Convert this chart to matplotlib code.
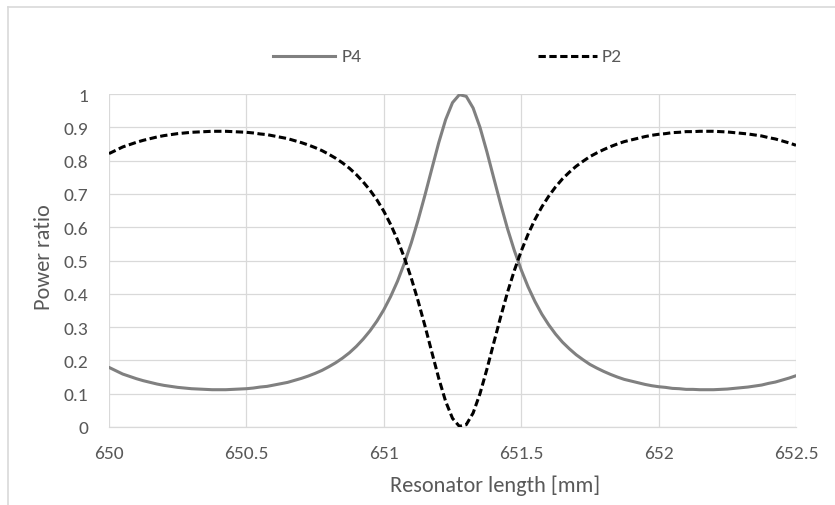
import numpy as np
import matplotlib
matplotlib.use("Agg")
import matplotlib.pyplot as plt
from matplotlib.lines import Line2D

# Resonator length grid [mm]
length_mm = np.linspace(650.0, 652.5, 101)

p4 = [0.179,0.169,0.159,0.152,0.145,0.139,0.134,0.129,0.125,0.122,0.119,0.117,0.115,0.114,0.113,0.112,0.112,0.112,0.113,0.114,
      0.115,0.117,0.120,0.122,0.126,0.130,0.134,0.140,0.146,0.153,0.161,0.170,0.181,0.193,0.207,0.223,0.242,0.264,0.289,0.318,
      0.352,0.392,0.438,0.492,0.553,0.622,0.697,0.776,0.854,0.923,0.974,0.998,0.993,0.958,0.900,0.827,0.748,0.670,0.596,0.530,
      0.472,0.421,0.377,0.339,0.307,0.279,0.255,0.235,0.217,0.202,0.188,0.177,0.167,0.158,0.150,0.143,0.138,0.133,0.128,0.124,
      0.121,0.119,0.116,0.115,0.113,0.113,0.112,0.112,0.112,0.113,0.114,0.116,0.118,0.120,0.123,0.126,0.131,0.135,0.141,0.147,
      0.154]

p2 = [0.821,0.831,0.841,0.848,0.855,0.861,0.866,0.871,0.875,0.878,0.881,0.883,0.885,0.886,0.887,0.888,0.888,0.888,0.887,0.886,
      0.885,0.883,0.880,0.878,0.874,0.870,0.866,0.860,0.854,0.847,0.839,0.830,0.819,0.807,0.793,0.777,0.758,0.736,0.711,0.682,
      0.648,0.608,0.562,0.508,0.447,0.378,0.303,0.224,0.146,0.077,0.026,0.002,0.007,0.042,0.100,0.173,0.252,0.330,0.404,0.470,
      0.528,0.579,0.623,0.661,0.693,0.721,0.745,0.765,0.783,0.798,0.812,0.823,0.833,0.842,0.850,0.857,0.862,0.867,0.872,0.876,
      0.879,0.881,0.884,0.885,0.887,0.887,0.888,0.888,0.888,0.887,0.886,0.884,0.882,0.880,0.877,0.874,0.869,0.865,0.859,0.853,
      0.846]

series_names = ["P4", "P2"]
x_ticks = [650, 650.5, 651, 651.5, 652, 652.5]
x_tick_labels = ["650", "650.5", "651", "651.5", "652", "652.5"]
y_ticks = [0, 0.1, 0.2, 0.3, 0.4, 0.5, 0.6, 0.7, 0.8, 0.9, 1]
y_tick_labels = ["0", "0.1", "0.2", "0.3", "0.4", "0.5", "0.6", "0.7", "0.8", "0.9", "1"]

plt.rcParams['font.family'] = ['Carlito', 'DejaVu Sans']
TXT = '#595959'
GRID = '#d9d9d9'
C4 = '#808080'
DASH = (2.4, 1.15)

W, H = 835, 506
fig = plt.figure(figsize=(W/100, H/100), dpi=100)
ax = fig.add_axes([109/W, 1-428/H, (796-109)/W, (428-95)/H])

ax.plot(length_mm, p4, color=C4, lw=2.2, solid_capstyle='round', label=series_names[0], zorder=3)
ax.plot(length_mm, p2, color='black', lw=2.2, dashes=DASH, label=series_names[1], zorder=3)

ax.set_xlim(650, 652.5)
ax.set_ylim(0, 1)
ax.set_xticks(x_ticks)
ax.set_xticklabels(x_tick_labels)
ax.set_yticks(y_ticks)
ax.set_yticklabels(y_tick_labels)
ax.tick_params(axis='both', length=0, labelsize=14, colors=TXT)
ax.tick_params(axis='y', pad=15)
ax.tick_params(axis='x', pad=13)
ax.grid(True, color=GRID, lw=0.9)
ax.set_axisbelow(True)
for s in ['top', 'right', 'left']:
    ax.spines[s].set_visible(False)
ax.spines['bottom'].set_color(GRID)
ax.spines['bottom'].set_linewidth(0.9)

ax.set_xlabel('Resonator length [mm]', fontsize=16, color=TXT)
ax.xaxis.set_label_coords((495-109)/687, (428-486)/333)
ax.xaxis.label.set_va('center')
ax.set_ylabel('Power ratio', fontsize=16, color=TXT)
ax.yaxis.set_label_coords((44-109)/687, (428-257)/333)
ax.yaxis.label.set_va('center')

# legend (top centre)
ly = 1 - 57/H
fig.add_artist(Line2D([273/W, 335/W], [ly, ly], transform=fig.transFigure, color=C4, lw=2.2))
fig.text(342/W, ly, series_names[0], fontsize=14, color=TXT, va='center', ha='left')
fig.add_artist(Line2D([538/W, 597/W], [ly, ly], transform=fig.transFigure, color='black', lw=2.2, dashes=DASH))
fig.text(602/W, ly, series_names[1], fontsize=14, color=TXT, va='center', ha='left')

# chart border (top and left visible)
fig.add_artist(Line2D([7.5/W, 7.5/W], [0, 1-7.5/H], transform=fig.transFigure, color=GRID, lw=1.2))
fig.add_artist(Line2D([7.5/W, 1], [1-7.5/H, 1-7.5/H], transform=fig.transFigure, color=GRID, lw=1.2))

fig.savefig('out.png', dpi=100)
